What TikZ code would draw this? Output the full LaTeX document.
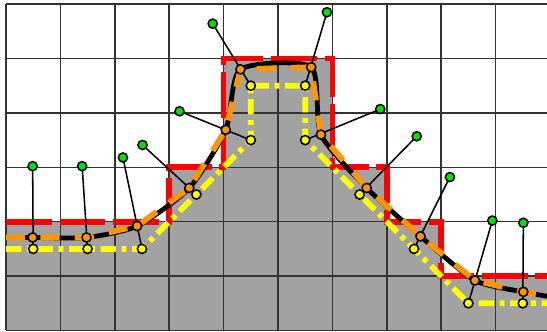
\documentclass[tikz,border=0pt]{standalone}
\usepackage{xcolor}
\usepackage{tikz}
\usetikzlibrary{calc}
\definecolor{CellGray}{RGB}{162,162,162}
\definecolor{DotGreen}{RGB}{0,225,0}
\definecolor{CurveOrange}{RGB}{255,150,0}
\definecolor{CenterYellow}{RGB}{255,255,0}

\begin{document}
\begin{tikzpicture}[
		ydot/.style={fill=CenterYellow, draw=black, line width=0.8pt},
		odot/.style={fill=CurveOrange, draw=black, line width=0.8pt},
		gdot/.style={fill=DotGreen, draw=black, line width=0.8pt}
	]
		\useasboundingbox (-0.11,-0.01) rectangle (9.945,6.075);
		
		% 单元中心
		\coordinate (Y1) at (0.5,1.5);
		\coordinate (Y2) at (1.5,1.5);
		\coordinate (Y3) at (2.5,1.5);
		\coordinate (Y4) at (3.5,2.5);
		\coordinate (Y5) at (4.5,3.5);
		\coordinate (Y6) at (4.5,4.5);
		\coordinate (Y7) at (5.5,4.5);
		\coordinate (Y8) at (5.5,3.5);
		\coordinate (Y9) at (6.5,2.5);
		\coordinate (Y10) at (7.5,1.5);
		\coordinate (Y11) at (8.5,0.5);
		\coordinate (Y12) at (9.5,0.5);
		
		% 曲线上的点
		\coordinate (O1) at (0.49,1.71);
		\coordinate (O2) at (1.48,1.71);
		\coordinate (O3) at (2.41,1.92);
		\coordinate (O4) at (3.37,2.62);
		\coordinate (O5) at (4.04,3.69);
		\coordinate (O6) at (4.31,4.80);
		\coordinate (O7) at (5.61,4.84);
		\coordinate (O8) at (5.79,3.60);
		\coordinate (O9) at (6.63,2.62);
		\coordinate (O10) at (7.62,1.73);
		\coordinate (O11) at (8.62,0.92);
		\coordinate (O12) at (9.51,0.71);
		
		% 外侧端点
		\coordinate (G1) at (0.49,3.02);
		\coordinate (G2) at (1.40,3.02);
		\coordinate (G3) at (2.15,3.18);
		\coordinate (G4) at (2.51,3.41);
		\coordinate (G5) at (3.19,4.03);
		\coordinate (G6) at (3.80,5.64);
		\coordinate (G7) at (5.90,5.85);
		\coordinate (G8) at (6.88,4.07);
		\coordinate (G9) at (7.55,3.57);
		\coordinate (G10) at (8.16,2.82);
		\coordinate (G11) at (8.94,2.02);
		\coordinate (G12) at (9.51,1.98);
		
		% 占据的格子
		\fill[CellGray] (0,0) -- (0,2) -- (3,2) -- (3,3) -- (4,3) -- (4,5) -- (6,5) -- (6,3) -- (7,3) -- (7,2) -- (8,2) -- (8,1) -- (10,1) -- (10,0) -- cycle;
		\draw[black!80, line width=0.75pt] (0,0) grid (10,6);
		
		% 阶梯边界
		\draw[red, line width=3pt, dash pattern=on 24pt off 4pt] (0,2) -- (3,2) -- (3,3) -- (4,3) -- (4,5) -- (6,5) -- (6,3) -- (7,3) -- (7,2) -- (8,2) -- (8,1) -- (10,1);
		
		% 中心连线
		\draw[CenterYellow, line width=3pt, dash pattern=on 8pt off 3pt on 2.5pt off 3pt] (0,1.5) -- (Y1) -- (Y2) -- (Y3) -- (Y4) -- (Y5) -- (Y6) -- (Y7) -- (Y8) -- (Y9) -- (Y10) -- (Y11) -- (Y12) -- (10,0.5);
		
		% 光滑曲线
		\draw[line width=2.5pt] plot[smooth, tension=0.4] coordinates {(0,1.71) (O1) (O2) (O3) (O4) (O5) (O6) (O7) (O8) (O9) (O10) (O11) (O12) (10,0.62)};
		\draw[CurveOrange, line width=3pt, dash pattern=on 10pt off 8pt] (0,1.71) -- (O1) -- (O2) -- (O3) -- (O4) -- (O5) -- (O6) -- (O7) -- (O8) -- (O9) -- (O10) -- (O11) -- (O12) -- (10,0.62);
		
		\foreach \i in {1,...,12}
			\draw[line width=0.8pt] (Y\i) -- (G\i);
		\foreach \i in {1,...,12} {
			\draw[ydot] (Y\i) circle (2.4pt);
			\draw[odot] (O\i) circle (2.4pt);
			\draw[gdot] (G\i) circle (2.4pt);
		}
\end{tikzpicture}
\end{document}
